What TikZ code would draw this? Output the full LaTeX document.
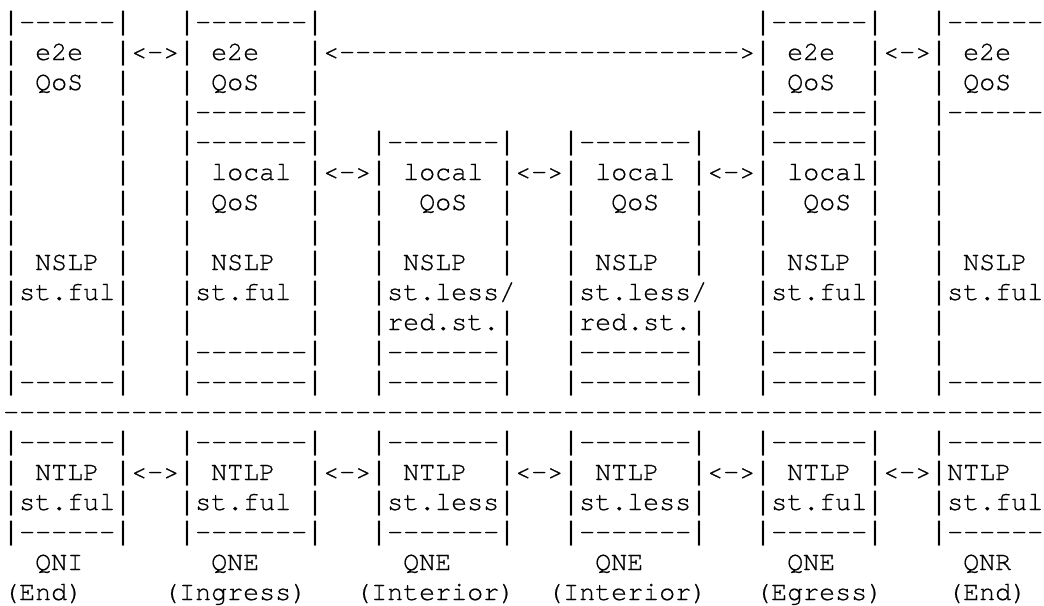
\documentclass[tikz,border=0pt]{standalone}
\usepackage{fontspec}
\newfontfamily\asciifont[Ligatures=TeXOff,FakeBold=0.6]{texgyrecursor-regular.otf}
\newfontfamily\barfont{Liberation Mono}
% n blank character cells of the monospaced font
\newcommand\gapch[1]{\hspace*{\dimexpr0.6em*#1\relax}}
% typeset one row; every | gets a full-height bar so that box sides join up
\ExplSyntaxOn
\tl_new:N \l__ascii_row_tl
\NewDocumentCommand \asciirowtext { m }
  {
    \tl_set:Nn \l__ascii_row_tl {#1}
    \tl_replace_all:Nnn \l__ascii_row_tl { | } { { \barfont | } }
    \tl_use:N \l__ascii_row_tl
  }
\ExplSyntaxOff
\begin{document}
\begin{tikzpicture}[x=1pt,y=1pt,
  asciirow/.style={inner sep=0pt,outer sep=0pt,anchor=base west,
    font=\asciifont\fontsize{26.667pt}{30pt}\selectfont\frenchspacing}]
\useasboundingbox[fill=white] (0,0) rectangle (1044,-605);
\def\xs{3.2}
% QoS NSLP / NTLP layers along the path QNI -> QNEs -> QNR
\node[asciirow] (row1)  at (\xs,-30)  {\asciirowtext{|------|\gapch{3}|-------|\gapch{27}|------|\gapch{3}|------}};
\node[asciirow] (row2)  at (\xs,-60)  {\asciirowtext{|\gapch{1}e2e\gapch{2}|<->|\gapch{1}e2e\gapch{3}|<{}-----{}-----{}-----{}-----{}-----{}>|\gapch{1}e2e\gapch{2}|<->|\gapch{1}e2e}};
\node[asciirow] (row3)  at (\xs,-90)  {\asciirowtext{|\gapch{1}QoS\gapch{2}|\gapch{3}|\gapch{1}QoS\gapch{3}|\gapch{27}|\gapch{1}QoS\gapch{2}|\gapch{3}|\gapch{1}QoS}};
\node[asciirow] (row4)  at (\xs,-120) {\asciirowtext{|\gapch{6}|\gapch{3}|-------|\gapch{27}|------|\gapch{3}|------}};
\node[asciirow] (row5)  at (\xs,-150) {\asciirowtext{|\gapch{6}|\gapch{3}|-------|\gapch{3}|-------|\gapch{3}|-------|\gapch{3}|------|\gapch{3}|}};
\node[asciirow] (row6)  at (\xs,-180) {\asciirowtext{|\gapch{6}|\gapch{3}|\gapch{1}local\gapch{1}|<->|\gapch{1}local\gapch{1}|<->|\gapch{1}local\gapch{1}|<->|\gapch{1}local|\gapch{3}|}};
\node[asciirow] (row7)  at (\xs,-210) {\asciirowtext{|\gapch{6}|\gapch{3}|\gapch{1}QoS\gapch{3}|\gapch{3}|\gapch{2}QoS\gapch{2}|\gapch{3}|\gapch{2}QoS\gapch{2}|\gapch{3}|\gapch{2}QoS\gapch{1}|\gapch{3}|}};
\node[asciirow] (row8)  at (\xs,-240) {\asciirowtext{|\gapch{6}|\gapch{3}|\gapch{7}|\gapch{3}|\gapch{7}|\gapch{3}|\gapch{7}|\gapch{3}|\gapch{6}|\gapch{3}|}};
\node[asciirow] (row9)  at (\xs,-270) {\asciirowtext{|\gapch{1}NSLP\gapch{1}|\gapch{3}|\gapch{1}NSLP\gapch{2}|\gapch{3}|\gapch{1}NSLP\gapch{2}|\gapch{3}|\gapch{1}NSLP\gapch{2}|\gapch{3}|\gapch{1}NSLP\gapch{1}|\gapch{3}|\gapch{1}NSLP}};
\node[asciirow] (row10) at (\xs,-300) {\asciirowtext{|st.ful|\gapch{3}|st.ful\gapch{1}|\gapch{3}|st.less/\gapch{3}|st.less/\gapch{3}|st.ful|\gapch{3}|st.ful}};
\node[asciirow] (row11) at (\xs,-330) {\asciirowtext{|\gapch{6}|\gapch{3}|\gapch{7}|\gapch{3}|red.st.|\gapch{3}|red.st.|\gapch{3}|\gapch{6}|\gapch{3}|}};
\node[asciirow] (row12) at (\xs,-360) {\asciirowtext{|\gapch{6}|\gapch{3}|-------|\gapch{3}|-------|\gapch{3}|-------|\gapch{3}|------|\gapch{3}|}};
\node[asciirow] (row13) at (\xs,-390) {\asciirowtext{|------|\gapch{3}|-------|\gapch{3}|-------|\gapch{3}|-------|\gapch{3}|------|\gapch{3}|------}};
\node[asciirow] (row14) at (\xs,-420) {-----{}-----{}-----{}-----{}-----{}-----{}-----{}-----{}-----{}-----{}-----{}-----{}-----};
\node[asciirow] (row15) at (\xs,-450) {\asciirowtext{|------|\gapch{3}|-------|\gapch{3}|-------|\gapch{3}|-------|\gapch{3}|------|\gapch{3}|------}};
\node[asciirow] (row16) at (\xs,-480) {\asciirowtext{|\gapch{1}NTLP\gapch{1}|<->|\gapch{1}NTLP\gapch{2}|<->|\gapch{1}NTLP\gapch{2}|<->|\gapch{1}NTLP\gapch{2}|<->|\gapch{1}NTLP\gapch{1}|<->|NTLP}};
\node[asciirow] (row17) at (\xs,-510) {\asciirowtext{|st.ful|\gapch{3}|st.ful\gapch{1}|\gapch{3}|st.less|\gapch{3}|st.less|\gapch{3}|st.ful|\gapch{3}|st.ful}};
\node[asciirow] (row18) at (\xs,-540) {\asciirowtext{|------|\gapch{3}|-------|\gapch{3}|-------|\gapch{3}|-------|\gapch{3}|------|\gapch{3}|------}};
\node[asciirow] (row19) at (\xs,-570) {\gapch{2}QNI\gapch{8}QNE\gapch{9}QNE\gapch{9}QNE\gapch{9}QNE\gapch{8}QNR};
\node[asciirow] (row20) at (\xs,-600) {(End)\gapch{5}(Ingress)\gapch{3}(Interior)\gapch{2}(Interior)\gapch{3}(Egress)\gapch{4}(End)};
\end{tikzpicture}
\end{document}
